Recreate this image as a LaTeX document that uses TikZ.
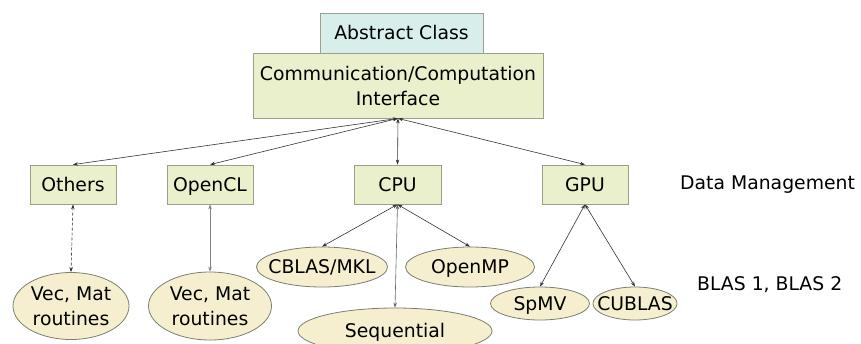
\documentclass[tikz,border=0pt]{standalone}
\usepackage{fontspec}
\setmainfont{DejaVu Sans}
\usetikzlibrary{shapes.geometric,arrows.meta}
\definecolor{cyanfill}{HTML}{D8EEEB}
\definecolor{greenfill}{HTML}{E9F0CB}
\definecolor{ellfill}{HTML}{F6EFCF}
\definecolor{edgegray}{HTML}{9AA08A}
\definecolor{arrowgray}{HTML}{333333}
\tikzset{
  lbl/.style={font=\fontsize{18.8}{25}\selectfont, text=black},
  oneline/.style={text height=13.7pt, text depth=0pt},
  box/.style={lbl, draw=edgegray, line width=0.8pt, fill=greenfill, inner sep=0pt, align=center},
  ell/.style={lbl, ellipse, draw=edgegray!80!black, line width=0.8pt, fill=ellfill, inner sep=0pt, align=center},
  conn/.style={draw=arrowgray, line width=0.6pt, {Stealth[length=5pt,width=3.5pt]}-{Stealth[length=5pt,width=3.5pt]}},
}
\begin{document}
\begin{tikzpicture}[x=1pt,y=-1pt]
\useasboundingbox (0,0) rectangle (861,343);
\fill[white] (0,0) rectangle (861,343);
% top boxes
\node[box, oneline, fill=cyanfill, minimum width=163pt, minimum height=40pt] (abs) at (401.5,33) {Abstract Class};
\node[box, minimum width=290pt, minimum height=65pt] (comm) at (398,85.5) {Communication/Computation\\Interface};
% data management boxes
\node[box, oneline, minimum width=86pt, minimum height=39pt] (others) at (73,184.5) {Others};
\node[box, oneline, minimum width=86pt, minimum height=39pt] (opencl) at (210,184.5) {OpenCL};
\node[box, oneline, minimum width=87pt, minimum height=39pt] (cpu) at (397.5,184.5) {CPU};
\node[box, oneline, minimum width=86pt, minimum height=39pt] (gpu) at (585,184.5) {GPU};
% BLAS ellipses
\node[ell, minimum width=116pt, minimum height=67pt] (vm1) at (71,306) {Vec, Mat\\routines};
\node[ell, minimum width=123pt, minimum height=68pt] (vm2) at (210,306) {Vec, Mat\\routines};
\node[ell, oneline, inner xsep=-7.5pt, minimum width=131pt, minimum height=40pt] (cblas) at (322,267) {CBLAS/MKL};
\node[ell, oneline, minimum width=129pt, minimum height=40pt] (openmp) at (470,267) {OpenMP};
\node[ell, oneline, minimum width=194pt, minimum height=46pt] (seq) at (395,331) {Sequential};
\node[ell, oneline, minimum width=99pt, minimum height=33pt] (spmv) at (540,303.5) {SpMV};
\node[ell, oneline, inner xsep=-8pt, minimum width=84pt, minimum height=33pt] (cublas) at (635,303.5) {CUBLAS};
% side labels
\node[lbl, anchor=west, inner sep=0pt] (dm) at (680,185) {Data Management};
\node[lbl, anchor=west, inner sep=0pt] (blas) at (697,285) {BLAS 1, BLAS 2};
% connectors
\draw[conn] (comm.south) -- (others.north);
\draw[conn] (comm.south) -- (opencl.north);
\draw[conn] (comm.south) -- (cpu.north);
\draw[conn] (comm.south) -- (gpu.north);
\draw[conn, densely dashed] (others.south) -- (vm1.north);
\draw[conn, draw=gray] (opencl.south) -- (vm2.north);
\draw[conn] (cpu.south) -- (cblas.north);
\draw[conn] (cpu.south) -- (openmp.north);
\draw[conn, draw=gray!80!black] (cpu.south) -- (seq.north);
\draw[conn] (gpu.south) -- (spmv.north);
\draw[conn] (gpu.south) -- (cublas.north);
\end{tikzpicture}
\end{document}
